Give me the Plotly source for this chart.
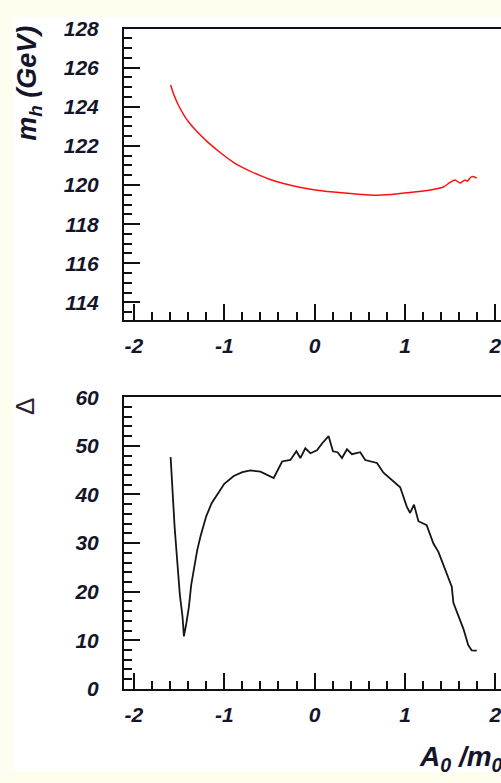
import plotly.graph_objects as go

# Lightest Higgs mass versus A0/m0
a0_mh = [-1.594, -1.558, -1.503, -1.447, -1.392, -1.30, -1.189, -1.042, -0.895, -0.80,
         -0.71, -0.60, -0.50, -0.343, -0.15, 0.026, 0.30, 0.652, 0.85, 1.02,
         1.25, 1.425, 1.50, 1.555, 1.61, 1.665, 1.69, 1.739, 1.794]
mh = [125.12, 124.62, 124.04, 123.58, 123.21, 122.72, 122.22, 121.65, 121.15, 120.9,
      120.7, 120.48, 120.3, 120.08, 119.87, 119.73, 119.6, 119.48, 119.52, 119.6,
      119.72, 119.9, 120.14, 120.26, 120.1, 120.26, 120.2, 120.43, 120.36]

# Fine-tuning measure Delta versus A0/m0
a0_delta = [-1.594, -1.576, -1.55, -1.52, -1.492, -1.462, -1.447, -1.42, -1.392, -1.366,
            -1.335, -1.30, -1.263, -1.20, -1.14, -1.078, -1.00, -0.895, -0.80, -0.71,
            -0.60, -0.453, -0.36, -0.268, -0.202, -0.158, -0.103, -0.047, 0.026, 0.082,
            0.155, 0.203, 0.254, 0.303, 0.358, 0.413, 0.505, 0.56, 0.69, 0.762,
            0.947, 1.02, 1.057, 1.10, 1.149, 1.24, 1.315, 1.37, 1.463, 1.518,
            1.536, 1.59, 1.647, 1.70, 1.739, 1.794]
delta = [47.7, 41.4, 33.4, 26.1, 19.4, 14.8, 10.8, 13.5, 16.8, 21.4,
         25.0, 28.5, 31.4, 35.5, 38.2, 40.1, 42.2, 43.8, 44.6, 44.95,
         44.7, 43.4, 46.8, 47.1, 48.9, 47.5, 49.5, 48.5, 49.1, 50.5,
         52.0, 48.9, 48.7, 47.5, 49.3, 48.3, 48.7, 47.1, 46.5, 44.5,
         41.5, 37.5, 36.2, 37.9, 34.5, 33.7, 29.9, 28.2, 23.6, 21.0,
         17.7, 15.0, 12.35, 9.0, 7.9, 7.85]

x_ticks = [-2, -1, 0, 1, 2]
x_ticktext = ["-2", "-1", "0", "1", "2"]
mh_ticks = [114, 116, 118, 120, 122, 124, 126, 128]
delta_ticks = [0, 10, 20, 30, 40, 50, 60]

W, H = 501, 783
INK = "#15152a"
FONT = "Liberation Sans"


def py(p):
    return 1 - p / H


fig = go.Figure()
fig.add_trace(go.Scatter(x=a0_mh, y=mh, mode="lines",
                         line=dict(color="#ff1010", width=1.5, shape="spline", smoothing=0.6),
                         xaxis="x", yaxis="y", showlegend=False))
fig.add_trace(go.Scatter(x=a0_delta, y=delta, mode="lines",
                         line=dict(color="#151515", width=1.8),
                         xaxis="x2", yaxis="y2", showlegend=False))

tickfont = dict(family=FONT, size=21, color=INK, weight="bold", style="italic")


def xaxis_style(anchor):
    return dict(
        domain=[124 / W, 1], anchor=anchor, range=[-2.11, 2.063],
        tickvals=x_ticks, ticktext=x_ticktext, ticks="inside", ticklen=16,
        tickwidth=1.5, tickcolor="#111", showline=True, linecolor="#111",
        linewidth=2, mirror=True, showgrid=False, zeroline=False,
        tickfont=tickfont, ticklabelstandoff=6, ticklabeloverflow="allow",
        minor=dict(dtick=0.2, ticks="inside", ticklen=8, tickwidth=1.5,
                   tickcolor="#111", showgrid=False),
    )


def yaxis_style(anchor, rng, vals, minor_dtick, domain):
    return dict(
        domain=domain, anchor=anchor, range=rng, tickvals=vals,
        ticks="inside", ticklen=16, tickwidth=1.5, tickcolor="#111",
        showline=True, linecolor="#111", linewidth=2, mirror=False,
        showgrid=False, zeroline=False, tickfont=tickfont,
        ticklabelstandoff=19, ticklabeloverflow="allow",
        minor=dict(dtick=minor_dtick, ticks="inside", ticklen=8, tickwidth=1.5,
                   tickcolor="#111", showgrid=False),
    )


fig.update_layout(
    width=W, height=H,
    margin=dict(l=0, r=0, t=0, b=0),
    paper_bgcolor="#fffdee", plot_bgcolor="white",
    xaxis=xaxis_style("y"),
    yaxis=yaxis_style("x", [113.1, 128], mh_ticks, 0.5, [py(317.3), py(17.1)]),
    xaxis2=xaxis_style("y2"),
    yaxis2=yaxis_style("x2", [0, 60], delta_ticks, 2, [py(697.3), py(397)]),
    shapes=[dict(type="rect", xref="paper", yref="paper",
                 x0=13 / W, x1=1, y0=0, y1=py(5),
                 fillcolor="white", line=dict(width=0), layer="below")],
    annotations=[
        dict(text="<b><i>m<sub>h</sub> (GeV)</i></b>", xref="paper", yref="paper",
             x=29 / W, y=py(74), xanchor="center", yanchor="middle",
             textangle=-90, showarrow=False,
             font=dict(family=FONT, size=27, color=INK)),
        dict(text="Δ", xref="paper", yref="paper",
             x=25 / W, y=py(407), xanchor="center", yanchor="middle",
             textangle=-90, showarrow=False,
             font=dict(family=FONT, size=26, color="#2a2030")),
        dict(text="<b><i>A<sub>0</sub> /m<sub>0</sub></i></b>", xref="paper", yref="paper",
             x=417 / W, y=py(789), xanchor="left", yanchor="bottom", showarrow=False,
             font=dict(family=FONT, size=28, color=INK)),
    ],
)

fig.write_html("out.html")
